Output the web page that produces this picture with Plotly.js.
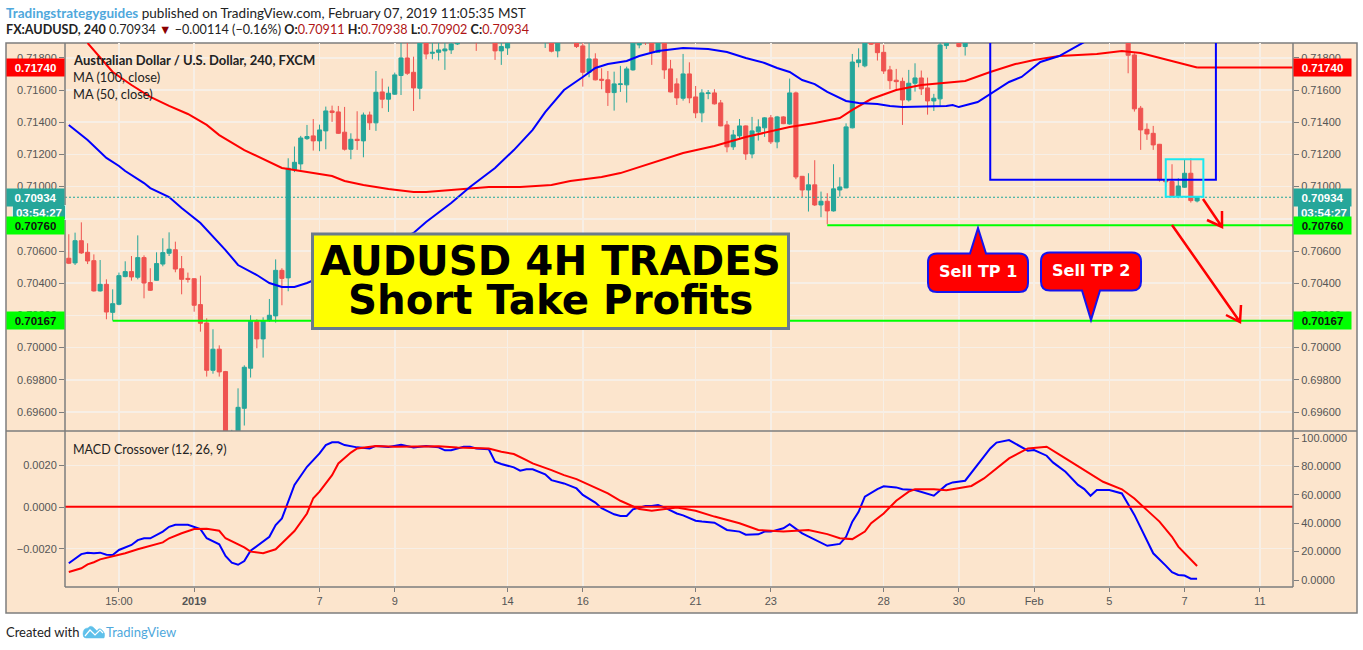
<!DOCTYPE html>
<html>
<head>
<meta charset="utf-8">
<script src="https://cdn.plot.ly/plotly-3.0.1.min.js"></script>
<style>html,body{margin:0;padding:0;background:#fff;overflow:hidden}</style>
</head>
<body>
<div id="chart" style="width:1363px;height:650px"></div>
<script>
// ---- candle values (null: the candle lies completely above the visible price range) ----
const opens = [.70555,.70526,.70664,.70592,.70540,.70352,.70393,.70219,.70269,.70441,
.70472,.70437,.70559,.70404,.70418,.70519,.70586,.70608,.70490,.70430,
.70428,.70267,.70153,.69859,.69990,.69851,.69420,.69460,.69623,.69872,
.70163,.70054,.70168,.70197,.70480,.70433,.71104,.71141,.71298,.71315,
.71284,.71346,.71470,.71464,.71338,.71232,.71294,.71284,.71445,.71396,
.71588,.71543,.71574,.71690,.71799,.71710,.71611,.71920,.71828,.71834,
.71843,.71849,.71886,null,null,.71960,null,null,.71930,.71843,
.71861,null,null,null,null,null,.71920,.71930,.71843,null,
null,.71930,.71874,.71710,.71793,.71667,.71663,.71584,.71634,.71632,
.71725,.71880,.71940,.71920,.71834,.71930,.71731,.71638,.71549,.71700,
.71557,.71458,.71578,.71582,.71520,.71383,.71247,.71315,.71377,.71203,
.71340,.71365,.71427,.71278,.71433,.71389,.71582,.71064,.70979,.71011,
.70886,.70909,.70849,.70979,.70992,.71365,.71770,.71750,.71920,.71920,
.71834,.71725,.71661,.71654,.71538,.71642,.71675,.71613,.71532,.71545,
.71876,null,.71930,.71870,null,null,null,null,null,null,
null,null,null,null,null,null,null,null,null,null,
null,null,null,null,null,null,null,null,null,.71920,
.71818,.71487,.71356,.71331,.71263,.71042,.71031,.70942,.70996,.71083,.70911];
const highs = [.70704,.70714,.70778,.70648,.70579,.70544,.70424,.70362,.70466,.70536,
.70569,.70697,.70573,.70493,.70592,.70679,.70716,.70658,.70569,.70466,
.70430,.70447,.70182,.70114,.70014,.69855,.69489,.69747,.69890,.70201,
.70176,.70188,.70302,.70548,.70493,.71176,.71249,.71315,.71383,.71420,
.71385,.71497,.71503,.71501,.71495,.71331,.71468,.71460,.71466,.71718,
.71671,.71621,.71708,.71920,.71900,.71807,.71960,.71940,.71900,.71900,
.71895,.71920,.71930,null,null,.71970,null,null,.71950,.71900,
.71930,null,null,null,null,null,.71960,.71950,.71950,null,
null,.71950,.71940,.71890,.71828,.71735,.71718,.71714,.71750,.71745,
.71950,.71960,.71960,.71940,.71950,.71950,.71787,.71673,.71824,.71772,
.71625,.71605,.71600,.71605,.71538,.71408,.71352,.71420,.71380,.71433,
.71418,.71431,.71445,.71439,.71437,.71671,.71590,.71066,.71083,.71164,
.70969,.70959,.71139,.71058,.71393,.71824,.71859,.71950,.71940,.71940,
.71880,.71750,.71731,.71677,.71725,.71766,.71721,.71677,.71576,.71920,
.71930,null,.71950,.71930,null,null,null,null,null,null,
null,null,null,null,null,null,null,null,null,null,
null,null,null,null,null,null,null,null,null,.71940,
.71828,.71501,.71393,.71377,.71265,.71048,.71139,.71052,.71166,.71176,.70938];
const lows = [.70519,.70513,.70582,.70519,.70348,.70348,.70176,.70168,.70263,.70437,
.70416,.70424,.70306,.70352,.70416,.70505,.70569,.70468,.70331,.70404,
.70223,.70099,.69820,.69838,.69820,.69400,.69380,.69440,.69516,.69814,
.69996,.69938,.70160,.70155,.70263,.70350,.71090,.71104,.71290,.71224,
.71220,.71232,.71402,.71327,.71224,.71170,.71228,.71182,.71352,.71346,
.71487,.71464,.71570,.71569,.71694,.71470,.71543,.71791,.71791,.71783,
.71725,.71824,.71880,null,null,.71843,null,null,.71787,.71756,
.71818,null,null,null,null,null,.71861,.71834,.71803,null,
null,.71861,.71621,.71679,.71660,.71605,.71501,.71472,.71588,.71522,
.71720,.71859,.71880,.71756,.71830,.71669,.71585,.71507,.71534,.71518,
.71425,.71400,.71543,.71510,.71375,.71213,.71228,.71294,.71166,.71176,
.71286,.71309,.71265,.71238,.71388,.71385,.71046,.70936,.70845,.70880,
.70810,.70766,.70845,.70938,.70990,.71362,.71741,.71741,.71880,.71783,
.71700,.71605,.71596,.71383,.71528,.71590,.71569,.71447,.71470,.71497,
.71855,null,.71865,.71814,null,null,null,null,null,null,
null,null,null,null,null,null,null,null,null,null,
null,null,null,null,null,null,null,null,null,.71704,
.71466,.71228,.71290,.71228,.71031,.70998,.70938,.70928,.70992,.70901,.70902];
const closes = [.70524,.70664,.70588,.70538,.70352,.70393,.70221,.70273,.70447,.70472,
.70439,.70559,.70401,.70356,.70522,.70590,.70611,.70488,.70424,.70424,
.70263,.70151,.69859,.69990,.69849,.69440,.69470,.69629,.69878,.70168,
.70054,.70168,.70201,.70480,.70430,.71114,.71151,.71302,.71311,.71284,
.71352,.71470,.71460,.71331,.71232,.71294,.71286,.71445,.71396,.71586,
.71543,.71580,.71694,.71799,.71704,.71613,.71930,.71824,.71834,.71849,
.71855,.71886,.71905,null,null,.71900,null,null,.71843,.71870,
.71900,null,null,null,null,null,.71950,.71841,.71930,null,
null,.71870,.71710,.71793,.71663,.71661,.71584,.71638,.71638,.71731,
.71920,.71950,.71900,.71834,.71930,.71725,.71588,.71551,.71700,.71551,
.71458,.71582,.71582,.71514,.71377,.71247,.71321,.71377,.71203,.71346,
.71371,.71427,.71278,.71433,.71391,.71582,.71060,.70979,.71011,.70886,
.70909,.70849,.70986,.70998,.71371,.71774,.71787,.71925,.71885,.71832,
.71718,.71658,.71652,.71538,.71642,.71675,.71607,.71532,.71549,.71880,
.71910,null,.71870,.71905,null,null,null,null,null,null,
null,null,null,null,null,null,null,null,null,null,
null,null,null,null,null,null,null,null,null,.71816,
.71483,.71352,.71327,.71259,.71042,.71030,.70942,.71004,.71083,.70913,.70934];
const candleIndex = closes.map((_, i) => i);

// ---- moving averages ----
const ma100Index = [3,7,10,13,16,19,22,24,28,32,34,37,42,44,47,51,55,57,63,67,72,77,80,85,88,91,98,103,108,115,119,123,125,128,132,136,141,143,147,151,154,158,164,168,171,176,180];
const ma100 = [.71892,.71712,.71631,.71557,.71501,.71451,.71383,.71320,.71227,.71153,.71116,.71097,.71066,.71035,.71010,.70985,.70966,.70966,.70985,.70998,.70998,.71010,.71035,.71060,.71084,.71122,.71209,.71252,.71308,.71370,.71395,.71426,.71476,.71544,.71600,.71631,.71650,.71656,.71712,.71761,.71786,.71811,.71824,.71842,.71830,.71780,.71740];
const ma50Index = [0,3,6,8,9,12,13,16,18,21,25,27,30,32,34,36,38,43,50,55,57,61,64,68,71,74,76,79,82,84,86,89,91,94,98,102,105,108,111,113,115,117,119,121,124,126,129,131,133,140,141,142,145,147,150,152,155,158,162];
const ma50 = [.71383,.71289,.71178,.71128,.71097,.71022,.70991,.70935,.70867,.70774,.70606,.70513,.70451,.70401,.70376,.70376,.70401,.70482,.70619,.70712,.70780,.70898,.70998,.71116,.71227,.71352,.71463,.71600,.71681,.71737,.71761,.71780,.71811,.71842,.71861,.71855,.71836,.71799,.71768,.71737,.71712,.71662,.71637,.71588,.71532,.71519,.71513,.71501,.71494,.71501,.71507,.71494,.71525,.71575,.71650,.71681,.71774,.71811,.71898];

// ---- MACD pane ----
const macdIndex = [0,1,2,3,4,5,6,7,8,10,11,12,13,15,16,17,19,21,22,24,25,26,27,28,29,32,33,34,35,36,38,40,41,42,43,44,46,48,49,51,53,55,57,59,60,61,63,64,65,67,68,69,71,72,73,74,76,77,79,81,82,83,84,85,87,88,89,90,92,93,94,95,97,98,100,101,103,105,107,108,110,111,112,114,115,117,119,121,123,124,125,126,127,129,130,132,133,135,138,140,141,143,147,148,150,153,154,156,157,159,161,162,163,164,166,168,170,172,173,175,176,177,178,179,180];
const macdValues = [-.00270,-.00247,-.00226,-.00219,-.00222,-.00219,-.00229,-.00230,-.00206,-.00182,-.00159,-.00150,-.00150,-.00118,-.00095,-.00085,-.00085,-.00106,-.00150,-.00179,-.00235,-.00267,-.00277,-.00259,-.00210,-.00143,-.00087,-.00055,.00025,.00106,.00193,.00257,.00297,.00310,.00310,.00297,.00286,.00281,.00293,.00288,.00299,.00286,.00293,.00286,.00272,.00272,.00289,.00289,.00281,.00277,.00217,.00206,.00190,.00174,.00181,.00181,.00157,.00129,.00113,.00089,.00058,.00041,.00021,-.00006,-.00035,-.00043,-.00043,-.00011,.00005,.00005,.00009,-.00002,-.00031,-.00040,-.00066,-.00070,-.00075,-.00110,-.00118,-.00133,-.00131,-.00118,-.00118,-.00102,-.00082,-.00126,-.00158,-.00186,-.00177,-.00143,-.00070,-.00023,.00050,.00086,.00099,.00094,.00085,.00081,.00054,.00106,.00118,.00126,.00281,.00309,.00321,.00270,.00273,.00246,.00214,.00169,.00106,.00086,.00054,.00081,.00081,.00065,-.00038,-.00158,-.00222,-.00281,-.00313,-.00326,-.00329,-.00344,-.00344];
const signalIndex = [0,2,3,4,5,7,9,11,13,15,16,18,20,22,24,25,28,29,31,33,34,36,38,39,40,42,43,45,46,49,52,55,59,62,67,69,71,73,74,77,79,81,83,86,88,90,91,93,95,97,100,103,107,110,114,118,121,123,125,127,128,130,132,134,135,138,140,144,146,150,153,156,159,162,165,168,170,172,174,176,177,180];
const signalValues = [-.00312,-.00294,-.00275,-.00265,-.00251,-.00238,-.00222,-.00203,-.00187,-.00170,-.00150,-.00126,-.00106,-.00104,-.00114,-.00150,-.00194,-.00214,-.00222,-.00203,-.00174,-.00115,-.00031,.00042,.00074,.00153,.00209,.00261,.00281,.00293,.00289,.00289,.00291,.00285,.00281,.00265,.00254,.00225,.00209,.00177,.00153,.00134,.00106,.00065,.00030,.00005,-.00010,-.00018,-.00011,-.00003,-.00018,-.00046,-.00078,-.00110,-.00118,-.00110,-.00130,-.00150,-.00154,-.00118,-.00078,-.00031,.00030,.00074,.00085,.00085,.00080,.00101,.00137,.00233,.00281,.00289,.00233,.00177,.00121,.00085,.00041,-.00015,-.00070,-.00143,-.00190,-.00283];

// ---- levels, ticks, labels ----
const lastPrice = 0.70934, tp1 = 0.70760, tp2 = 0.70167, ma100Last = 0.71740, macdLevel = 51.6;
const timeTickIndex = [8,20,40,52,70,82,100,112,130,142,154,166,178,190];
const timeTickText = ['15:00','<b>2019</b>','7','9','14','16','21','23','28','30','Feb','5','7','11'];
const priceTicks = [.696,.698,.700,.702,.704,.706,.708,.710,.712,.714,.716,.718];
const macdTicks = [-.002,0,.002];
const rightTicks = [0,20,40,60,80,100];

// ---- page geometry ----
const L = 65, R = 1293, T = 43, B = 587, SPLIT = 431;
const fx = p => (p - L) / (R - L), fy = p => (B - p) / (B - T);
const P = (x, y) => fx(x) + ' ' + fy(y);
const X_RANGE = [-0.606, 195.3];
const PRICE_RANGE = [0.69482, 0.71892];

const TEAL = '#26a69a', RED = '#ef5350', PEACH = '#fce5cd', GRID = '#f7efe6', AXIS = '#7d7d7d', TXT = '#555555';
const LABEL_FONT = 'Liberation Sans, Arial, sans-serif', UI_FONT = 'Lato, sans-serif';

const line = (x, y, color, width, yaxis, dash) => ({
  type: 'scatter', mode: 'lines', x, y, yaxis, xaxis: 'x', hoverinfo: 'skip', showlegend: false,
  line: {color, width, dash: dash || 'solid'}
});
const data = [
  {type: 'candlestick', x: candleIndex, open: opens, high: highs, low: lows, close: closes,
   xaxis: 'x', yaxis: 'y', hoverinfo: 'skip', showlegend: false, whiskerwidth: 0,
   increasing: {line: {color: TEAL, width: 1}, fillcolor: TEAL},
   decreasing: {line: {color: RED, width: 1}, fillcolor: RED}},
  line(ma100Index, ma100, '#ff0000', 2, 'y'),
  line(ma50Index, ma50, '#0000ff', 2, 'y'),
  line([X_RANGE[0], X_RANGE[1]], [lastPrice, lastPrice], '#1fa89c', 1.2, 'y3', '2px,2px'),
  line([180, X_RANGE[1]], [ma100Last, ma100Last], '#ff0000', 2, 'y3'),
  line([121, X_RANGE[1]], [tp1, tp1], '#00ff00', 2, 'y3'),
  line([7, X_RANGE[1]], [tp2, tp2], '#00ff00', 2, 'y3'),
  line(macdIndex, macdValues, '#0000ff', 2, 'y2'),
  line(signalIndex, signalValues, '#ff0000', 2, 'y2'),
  line([X_RANGE[0], X_RANGE[1]], [macdLevel, macdLevel], '#ff0000', 2, 'y4')
];

const frameLine = (x0, y0, x1, y1) => ({type: 'line', xref: 'paper', yref: 'paper', x0: fx(x0), y0: fy(y0), x1: fx(x1), y1: fy(y1), line: {color: AXIS, width: 1.5}});
const pathShape = (d, fill, color, width) => ({type: 'path', xref: 'paper', yref: 'paper', path: d, fillcolor: fill, line: {color, width}});
const callout = (x0, y0, x1, y1, r, tipX, tipY, tipA, tipB) => {
  const up = tipY < y0;
  return 'M ' + P(x0 + r, y0) +
    (up ? ' L ' + P(tipA, y0) + ' L ' + P(tipX, tipY) + ' L ' + P(tipB, y0) : '') +
    ' L ' + P(x1 - r, y0) + ' Q ' + P(x1, y0) + ' ' + P(x1, y0 + r) +
    ' L ' + P(x1, y1 - r) + ' Q ' + P(x1, y1) + ' ' + P(x1 - r, y1) +
    (!up ? ' L ' + P(tipB, y1) + ' L ' + P(tipX, tipY) + ' L ' + P(tipA, y1) : '') +
    ' L ' + P(x0 + r, y1) + ' Q ' + P(x0, y1) + ' ' + P(x0, y1 - r) +
    ' L ' + P(x0, y0 + r) + ' Q ' + P(x0, y0) + ' ' + P(x0 + r, y0) + ' Z';
};
const shapes = [
  {type: 'rect', xref: 'paper', yref: 'paper', layer: 'below', x0: fx(6), x1: fx(1357), y0: fy(43), y1: fy(613), fillcolor: PEACH, line: {color: AXIS, width: 1.5}},
  frameLine(6, SPLIT, 1357, SPLIT),
  frameLine(L, B, R, B),
  frameLine(L, T, L, B),
  frameLine(R, T, R, B),
  {type: 'rect', xref: 'x', yref: 'y', x0: 147, x1: 183, y0: 0.71043, y1: 0.7200, line: {color: '#0000ff', width: 2}},
  {type: 'rect', xref: 'x', yref: 'y', x0: 175, x1: 181, y0: 0.70937, y1: 0.71170, line: {color: '#19e8f0', width: 2}},
  pathShape('M ' + P(1203, 199) + ' L ' + P(1222, 227) + ' M ' + P(1207, 220) + ' L ' + P(1222, 227) + ' L ' + P(1222, 211), 'rgba(0,0,0,0)', '#ff0000', 2.5),
  pathShape('M ' + P(1172, 225) + ' L ' + P(1240, 322) + ' M ' + P(1226, 315) + ' L ' + P(1240, 322) + ' L ' + P(1241, 305), 'rgba(0,0,0,0)', '#ff0000', 2.5),
  {type: 'rect', xref: 'paper', yref: 'paper', x0: fx(312.5), x1: fx(788.5), y0: fy(234), y1: fy(328.5), fillcolor: '#ffff00', line: {color: '#6a7b8c', width: 3}},
  pathShape(callout(928, 253.5, 1028, 292, 9, 978, 228, 970, 986), '#ff0000', '#1414f0', 2),
  pathShape(callout(1041, 252.5, 1141, 290.5, 9, 1091, 320, 1082, 1100), '#ff0000', '#1414f0', 2),
  // TradingView logo
  pathShape('M ' + P(83, 634) + ' Q ' + P(83, 628) + ' ' + P(88, 628) + ' Q ' + P(91, 624) + ' ' + P(95, 629) + ' L ' + P(97, 631) + ' Q ' + P(99, 627) + ' ' + P(102, 630) + ' Q ' + P(106, 633) + ' ' + P(104, 638) + ' L ' + P(86, 638) + ' Q ' + P(83, 638) + ' ' + P(83, 634) + ' Z', '#5fc0ea', '#5fc0ea', 0.5),
  pathShape('M ' + P(85, 636) + ' L ' + P(90, 630) + ' L ' + P(95, 635) + ' L ' + P(100, 630) + ' L ' + P(103, 633), 'rgba(0,0,0,0)', '#ffffff', 1.2)
];

const ann = (px, py, text, size, color, family, extra) => Object.assign({
  xref: 'paper', yref: 'paper', x: fx(px), y: fy(py), xanchor: 'left', yanchor: 'middle',
  text, showarrow: false, font: {size, color, family}
}, extra || {});
const tag = (side, value, text, bg, color) => ({
  xref: 'paper', yref: 'y', x: side === 'left' ? 0 : 1, y: value,
  xanchor: side === 'left' ? 'right' : 'left', yanchor: 'middle', width: 57, height: 17, borderpad: 0,
  text, showarrow: false, bgcolor: bg, align: 'center', valign: 'middle',
  font: {size: 11.5, color, family: LABEL_FONT, weight: 'bold'}
});
const clock = (px) => ({
  xref: 'paper', yref: 'paper', x: fx(px), y: fy(212.5), xanchor: 'left', yanchor: 'middle', width: 52, height: 13, borderpad: 0,
  text: '03:54:27', showarrow: false, bgcolor: TEAL, bordercolor: '#d9efe9', borderwidth: 1, align: 'center',
  font: {size: 11.5, color: '#ffffff', family: LABEL_FONT, weight: 'bold'}
});
const dred = s => '<span style="color:#b01515">' + s + '</span>';
const annotations = [
  ann(4, 13, '<span style="color:#4fa8dc"><b>Tradingstrategyguides</b></span> published on TradingView.com, February 07, 2019 11:05:35 MST', 13.5, '#222', UI_FONT),
  ann(4, 30, '<b>FX:AUDUSD, 240</b> 0.70934 <span style="color:#8b0000">▼</span> −0.00114 (−0.16%) <b>O:</b>' + dred('0.70911') + ' <b>H:</b>' + dred('0.70938') + ' <b>L:</b>' + dred('0.70902') + ' <b>C:</b>' + dred('0.70934'), 12.6, '#222', UI_FONT),
  ann(71, 60, '<b>Australian Dollar / U.S. Dollar, 240, FXCM</b>', 13, '#222', UI_FONT),
  ann(71, 77, 'MA (100, close)', 12.8, '#222', UI_FONT),
  ann(71, 94, 'MA (50, close)', 12.8, '#222', UI_FONT),
  ann(71, 449, 'MACD Crossover (12, 26, 9)', 12.5, '#222', UI_FONT),
  tag('left', ma100Last, '0.71740', '#ff0000', '#fff'),
  tag('right', ma100Last, '0.71740', '#ff0000', '#fff'),
  clock(12), clock(1297),
  tag('left', lastPrice, '0.70934', TEAL, '#fff'),
  tag('right', lastPrice, '0.70934', TEAL, '#fff'),
  tag('left', tp1, '0.70760', '#00ff00', '#111'),
  tag('right', tp1, '0.70760', '#00ff00', '#111'),
  tag('left', tp2, '0.70167', '#00ff00', '#111'),
  tag('right', tp2, '0.70167', '#00ff00', '#111'),
  ann(550, 261.5, '<b>AUDUSD 4H TRADES</b>', 40.3, '#000', 'DejaVu Sans', {xanchor: 'center'}),
  ann(550, 300.5, '<b>Short Take Profits</b>', 40.3, '#000', 'DejaVu Sans', {xanchor: 'center'}),
  ann(978, 271.5, '<b>Sell TP 1</b>', 16, '#fff', 'DejaVu Sans', {xanchor: 'center'}),
  ann(1091, 270.5, '<b>Sell TP 2</b>', 16, '#fff', 'DejaVu Sans', {xanchor: 'center'}),
  ann(4, 632, 'Created with', 13, '#222', UI_FONT),
  ann(104, 632, 'TradingView', 13, '#4fa8dc', UI_FONT)
];

const tickFont = {size: 11, color: TXT, family: LABEL_FONT};
const yCommon = {showline: false, zeroline: false, ticks: 'outside', ticklen: 5, tickwidth: 1, tickcolor: AXIS, tickfont: tickFont};
const layout = {
  width: 1363, height: 650, autosize: false, showlegend: false,
  paper_bgcolor: '#ffffff', plot_bgcolor: PEACH, hovermode: false, dragmode: false,
  boxgap: 0.35, boxgroupgap: 0,
  margin: {l: L, r: 1363 - R, t: T, b: 650 - B, pad: 0},
  xaxis: {domain: [0, 1], range: X_RANGE, anchor: 'y2', tickmode: 'array', tickvals: timeTickIndex, ticktext: timeTickText,
    showgrid: true, gridcolor: GRID, gridwidth: 1.5, zeroline: false, showline: false,
    ticks: 'outside', ticklen: 4, tickcolor: AXIS, tickfont: tickFont, rangeslider: {visible: false}, fixedrange: true},
  yaxis: Object.assign({}, yCommon, {domain: [fy(SPLIT), 1], range: PRICE_RANGE, anchor: 'x', side: 'left', tickmode: 'array', tickvals: priceTicks, tickformat: '.5f', showgrid: true, gridcolor: GRID, gridwidth: 1.5, fixedrange: true}),
  yaxis3: Object.assign({}, yCommon, {domain: [fy(SPLIT), 1], range: PRICE_RANGE, anchor: 'x', overlaying: 'y', side: 'right', tickmode: 'array', tickvals: priceTicks, tickformat: '.5f', showgrid: false, fixedrange: true}),
  yaxis2: Object.assign({}, yCommon, {domain: [0, fy(SPLIT)], range: [-0.003837, 0.003645], anchor: 'x', side: 'left', tickmode: 'array', tickvals: macdTicks, tickformat: '.4f', showgrid: true, gridcolor: GRID, gridwidth: 1.5, fixedrange: true}),
  yaxis4: Object.assign({}, yCommon, {domain: [0, fy(SPLIT)], range: [-4.93, 104.93], anchor: 'x', overlaying: 'y2', side: 'right', tickmode: 'array', tickvals: rightTicks, tickformat: '.4f', showgrid: false, fixedrange: true}),
  shapes, annotations
};
Plotly.newPlot('chart', data, layout, {displayModeBar: false, staticPlot: true});
</script>
</body>
</html>
